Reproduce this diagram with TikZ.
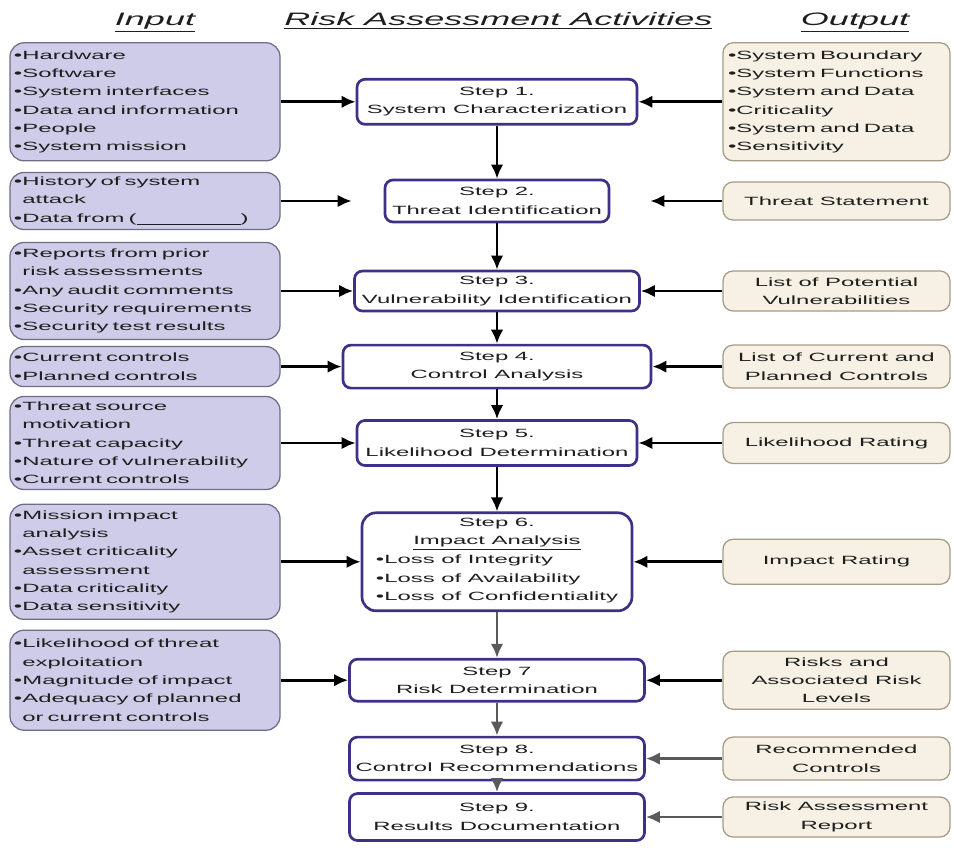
\documentclass[tikz,border=0pt]{standalone}
\usepackage{fontspec}
\setmainfont[FakeStretch=2.0]{Liberation Sans}
\usetikzlibrary{arrows.meta}

\definecolor{infill}{RGB}{206,204,232}
\definecolor{indraw}{RGB}{112,108,135}
\definecolor{outfill}{RGB}{246,241,228}
\definecolor{outdraw}{RGB}{165,155,135}
\definecolor{stepdraw}{RGB}{62,48,135}
\definecolor{txt}{RGB}{30,30,30}
\definecolor{grayarrow}{RGB}{90,90,90}

\begin{document}
\begin{tikzpicture}[font=\fontsize{8.5}{13}\selectfont,text=txt,
  header/.style={anchor=base,font=\fontsize{12.8}{15}\selectfont\itshape},
  inbox/.style={draw=indraw,fill=infill,line width=0.9pt,rounded corners=0.35cm,text width=6.55cm,inner xsep=0.1cm,inner ysep=0pt,align=left},
  stepbox/.style={draw=stepdraw,fill=white,line width=1.9pt,rounded corners=0.2cm,inner sep=0pt,align=center},
  outbox/.style={draw=outdraw,fill=outfill,line width=0.9pt,rounded corners=0.25cm,minimum width=5.675cm,inner sep=0pt,align=center},
  arr/.style={-{Latex[length=10pt,width=9pt]},line width=2.1pt,black}]

\useasboundingbox (0,0) rectangle (23.85,21.175);

\node[header] (hin) at (3.875,20.525) {\underline{Input}};

\node[header] (hact) at (12.46,20.525) {\underline{Risk Assessment Activities}};

\node[header] (hout) at (21.375,20.525) {\underline{Output}};

\node[inbox,minimum height=2.95cm] (i1) at (3.625,18.63) {•Hardware\\•Software\\•System interfaces\\•Data and information\\•People\\•System mission};

\node[stepbox,minimum width=7cm,minimum height=1.125cm] (1) at (12.425,18.63) {Step 1.\\System Characterization};

\node[outbox,minimum height=2.95cm,text width=5.425cm,inner xsep=0.125cm,align=left] (o1) at (20.9125,18.63) {•System Boundary\\•System Functions\\•System and Data\\•Criticality\\•System and Data\\•Sensitivity};

\node[inbox,minimum height=1.425cm] (i2) at (3.625,16.15) {•History of system\\\phantom{•}attack\\•Data from (\underline{\hspace{2.6cm}})};

\node[stepbox,minimum width=5.6cm,minimum height=1.05cm] (2) at (12.425,16.15) {Step 2.\\Threat Identification};

\node[outbox,minimum height=0.95cm] (o2) at (20.9125,16.15) {Threat Statement};

\node[inbox,minimum height=2.425cm] (i3) at (3.625,13.9) {•Reports from prior\\\phantom{•}risk assessments\\•Any audit comments\\•Security requirements\\•Security test results};

\node[stepbox,minimum width=7.125cm,minimum height=1cm] (3) at (12.425,13.9) {Step 3.\\Vulnerability Identification};

\node[outbox,minimum height=1cm] (o3) at (20.9125,13.9) {List of Potential\\Vulnerabilities};

\node[inbox,minimum height=1cm] (i4) at (3.625,12.01) {•Current controls\\•Planned controls};

\node[stepbox,minimum width=7.7cm,minimum height=1.075cm] (4) at (12.425,12.01) {Step 4.\\Control Analysis};

\node[outbox,minimum height=1.075cm] (o4) at (20.9125,12.01) {List of Current and\\Planned Controls};

\node[inbox,minimum height=2.325cm] (i5) at (3.625,10.1) {•Threat source\\\phantom{•}motivation\\•Threat capacity\\•Nature of vulnerability\\•Current controls};

\node[stepbox,minimum width=7cm,minimum height=1.125cm] (5) at (12.425,10.1) {Step 5.\\Likelihood Determination};

\node[outbox,minimum height=1.025cm] (o5) at (20.9125,10.1) {Likelihood Rating};

\node[inbox,minimum height=2.875cm] (i6) at (3.625,7.13) {•Mission impact\\\phantom{•}analysis\\•Asset criticality\\\phantom{•}assessment\\•Data criticality\\•Data sensitivity};

\node[stepbox,rounded corners=0.35cm,minimum width=6.75cm,minimum height=2.45cm] (6) at (12.425,7.13) {Step 6.\\\underline{Impact Analysis}\\\begin{tabular}{@{}l@{}}•Loss of Integrity\\•Loss of Availability\\•Loss of Confidentiality\end{tabular}};

\node[outbox,minimum height=1.125cm] (o6) at (20.9125,7.13) {Impact Rating};

\node[inbox,minimum height=2.5cm] (i7) at (3.625,4.17) {•Likelihood of threat\\\phantom{•}exploitation\\•Magnitude of impact\\•Adequacy of planned\\\phantom{•}or current controls};

\node[stepbox,minimum width=7.375cm,minimum height=1.05cm] (7) at (12.425,4.17) {Step 7\\Risk Determination};

\node[outbox,minimum height=1.45cm] (o7) at (20.9125,4.17) {Risks and\\Associated Risk\\Levels};

\node[stepbox,minimum width=7.375cm,minimum height=1.075cm] (8) at (12.425,2.21) {Step 8.\\Control Recommendations};

\node[outbox,minimum height=1.075cm] (o8) at (20.9125,2.21) {Recommended\\Controls};

\node[stepbox,minimum width=7.375cm,minimum height=1.175cm] (9) at (12.425,0.75) {Step 9.\\Results Documentation};

\node[outbox,minimum height=1cm] (o9) at (20.9125,0.75) {Risk Assessment\\Report};

\draw[arr] (i1)--(1);
\draw[arr] (o1)--(1);
\draw[arr,shorten >=0.8cm] (i2)--(2);
\draw[arr,shorten >=1cm] (o2)--(2);
\draw[arr] (i3)--(3);
\draw[arr] (o3)--(3);
\draw[arr] (i4)--(4);
\draw[arr] (o4)--(4);
\draw[arr] (i5)--(5);
\draw[arr] (o5)--(5);
\draw[arr] (i6)--(6);
\draw[arr] (o6)--(6);
\draw[arr] (i7)--(7);
\draw[arr] (o7)--(7);
\draw[arr,grayarrow] (o8)--(8);
\draw[arr,grayarrow] (o9)--(9);

\draw[arr] (1)--(2);
\draw[arr] (2)--(3);
\draw[arr] (3)--(4);
\draw[arr] (4)--(5);
\draw[arr] (5)--(6);
\draw[arr,grayarrow] (6)--(7);
\draw[arr,grayarrow] (7)--(8);
\draw[arr,grayarrow] (8)--(9);

\end{tikzpicture}
\end{document}
